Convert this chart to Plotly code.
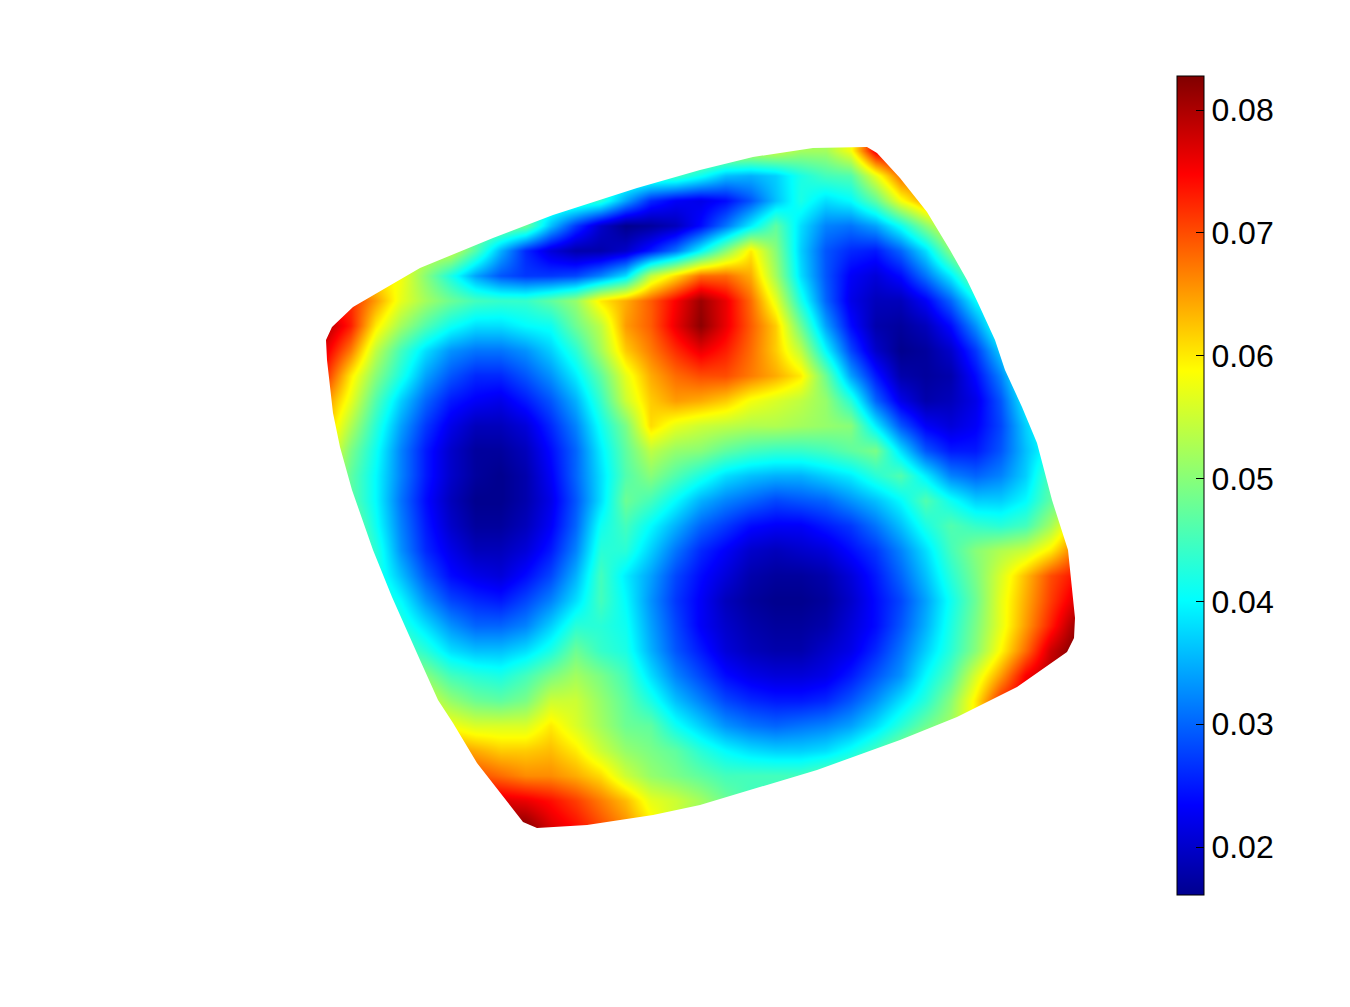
import plotly.graph_objects as go

# Colour field, in thousandths, on a 25 px sampling lattice
column_positions = list(range(325, 1076, 25))
row_positions = list(range(150, 826, 25))
field_rows = [
 [55]*19 + [52,52,58,76] + [80]*8,
 [45]*15 + [41,36,35,37,42,45,46,57,68,70] + [72]*6,
 [45]*11 + [43,34,26,23,22,24,29,36,42,38,40,47,58,65] + [68]*6,
 [50]*8 + [48,36,27,20,16,17,19,24,31,39,47,38,32,31,34,41,50,58] + [60]*5,
 [55]*6 + [46,35,26,21,18,18,20,25,31,40,50,60,50,37,29,26,25,30,38,50] + [58]*5,
 [60,60,60,58,50,42,34,29,27,27,28,32,38,54,61,68,68,64,52,38,29,23,21,24,31,39,50,55,55,55,55],
 [72,72,65,57,52,48,45,44,44,47,51,60,64,69,75,81,76,68,57,42,30,22,19,19,23,30,40,45,45,45,45],
 [80,73,60,52,46,41,38,38,40,41,48,54,65,69,76,82,76,69,62,48,34,24,18,17,19,24,33,44,45,45,45],
 [76,67,54,45,38,33,31,31,33,37,43,52,62,67,72,76,73,68,62,54,40,28,20,16,17,20,27,37,51,52,52],
 [72,60,50,42,34,29,26,26,29,33,39,47,57,64,68,70,70,67,64,60,48,34,25,18,17,18,24,32,44,48,48],
 [66,57,46,37,30,25,23,22,25,29,35,44,55,62,65,64,62,58,56,54,51,43,30,22,18,19,22,29,40,46,48],
 [63,53,43,34,27,22,19,19,21,26,32,41,49,61,57,55,54,53,53,52,51,50,39,29,23,21,23,28,37,44,46],
 [60,49,41,32,25,20,17,17,19,24,30,39,47,54,51,50,47,45,44,44,45,47,49,38,29,25,25,29,36,42,44],
 [58,47,40,32,25,20,17,16,18,23,30,38,46,50,46,42,38,36,35,35,37,39,43,46,39,32,30,32,37,46,50],
 [58,47,40,31,24,19,16,16,18,22,29,38,48,45,40,35,32,30,28,29,30,33,36,40,46,41,37,37,40,47,50],
 [52,50,41,32,25,20,17,17,19,23,30,41,45,40,35,30,27,24,23,23,25,27,31,36,42,46,44,43,45,52,62],
 [55,50,43,33,26,22,19,19,21,25,32,43,43,37,31,26,23,20,19,20,21,24,27,32,38,45,50,53,55,60,68],
 [48,47,43,36,29,24,22,21,24,28,35,45,39,34,28,24,21,18,17,17,18,21,25,30,36,43,49,56,63,70,74],
 [48,47,45,40,33,28,26,25,28,32,38,45,40,33,27,23,19,17,16,16,17,20,24,28,34,41,48,57,64,71,77],
 [47,47,46,43,38,33,30,30,32,37,43,43,41,34,28,23,20,18,17,17,18,21,24,29,35,42,49,57,65,73,81],
 [48,48,48,47,43,38,36,36,38,42,48,44,42,35,29,25,21,19,18,18,20,22,26,31,37,43,50,59,68,78,83],
 [52,52,52,52,50,45,43,42,45,49,52,49,45,38,32,28,24,22,21,21,22,25,29,33,40,46,56,65,75,80,83],
 [56,56,56,56,56,51,48,47,49,55,55,51,47,42,36,32,28,26,25,25,26,29,33,38,43,50,60,72,78,80,83],
 [60,60,60,60,60,58,56,56,56,60,56,52,48,47,41,37,33,31,30,31,32,34,38,43,48,52,60,70,70,70,70],
 [66]*5 + [66,64,62,62,63,60,55,51,49,47,43,40,38,37,37,38,41,45,50,55] + [60]*6,
 [70]*5 + [70,70,68,66,66,64,61,55,51,49,47,45,45,45,45,47,48,50,50,50] + [50]*6,
 [78]*6 + [78,77,76,74,71,67,63,57,55,52,48] + [45]*14,
 [83]*8 + [82,77,74,70,66,60,55] + [50]*16,
]

# Silhouette of the solid
outline_x = [326,327,333,340,352,373,392,420,438,453,477,523,537,587,653,700,743,817,900,957,1017,1067,1074,1075,1068,1052,1037,1022,1005,995,978,967,950,927,900,877,867,813,753,700,637,553,493,420,353,332,326]
outline_y = [340,360,413,447,490,550,597,660,700,723,763,822,828,825,815,805,792,770,740,717,687,652,638,618,550,500,443,407,370,340,303,280,250,212,178,153,147,148,157,170,188,215,238,268,307,327,340]
frame_x = [300,1100,1100,300,300]
frame_y = [130,130,850,850,130]

colour_min, colour_max = 0.0161, 0.08277
tick_values = [0.02,0.03,0.04,0.05,0.06,0.07,0.08]
jet = [[0,"rgb(0,0,143)"],[0.11,"rgb(0,0,255)"],[0.36,"rgb(0,255,255)"],
       [0.5,"rgb(128,255,128)"],[0.64,"rgb(255,255,0)"],[0.88,"rgb(255,0,0)"],[1,"rgb(128,0,0)"]]

fig = go.Figure()
fig.add_trace(go.Heatmap(
    x=column_positions, y=row_positions,
    z=[[v/1000 for v in row] for row in field_rows],
    zmin=colour_min, zmax=colour_max, zsmooth="best", colorscale=jet, hoverinfo="skip",
    colorbar=dict(
        x=1177/1350, xanchor="left", y=1-76/1007, yanchor="top",
        len=819/1007, lenmode="fraction", thickness=27, thicknessmode="pixels",
        xpad=0, ypad=0, outlinecolor="black", outlinewidth=1,
        tickmode="array", tickvals=tick_values, tickformat=".2f",
        ticks="inside", ticklen=8, tickcolor="black", tickwidth=1,
        tickfont=dict(family="Liberation Sans, Arial, sans-serif", size=32, color="black"),
    ),
))
fig.add_trace(go.Scatter(
    x=frame_x + outline_x + frame_x[:1], y=frame_y + outline_y + frame_y[:1],
    mode="lines", fill="toself", fillcolor="white", line=dict(width=0, color="white"),
    hoverinfo="skip", showlegend=False,
))
fig.update_layout(
    width=1350, height=1007, margin=dict(l=0,r=0,t=0,b=0),
    paper_bgcolor="white", plot_bgcolor="white", showlegend=False,
    xaxis=dict(range=[0,1350], visible=False, fixedrange=True),
    yaxis=dict(range=[1007,0], visible=False, fixedrange=True),
)
fig.write_html("out.html", post_script="document.body.style.margin='0';", config={"displayModeBar": False})
